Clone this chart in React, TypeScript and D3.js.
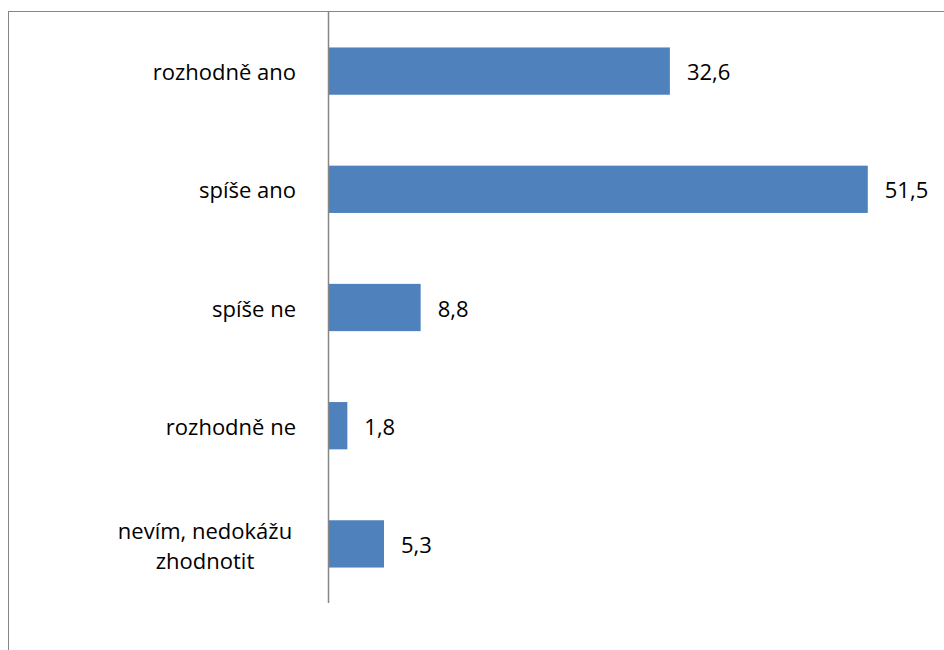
import React from "react";
import * as d3 from "d3";

const categories: string[][] = [
  ["rozhodně ano"],
  ["spíše ano"],
  ["spíše ne"],
  ["rozhodně ne"],
  ["nevím, nedokážu", "zhodnotit"],
];
const values: number[] = [32.6, 51.5, 8.8, 1.8, 5.3];
const valueLabels: string[] = ["32,6", "51,5", "8,8", "1,8", "5,3"];

const W = 944;
const H = 650;
const FONT = "'Open Sans', 'Noto Sans', sans-serif";
const FS = 22;

export default function App() {
  const axisX = 328.5;
  const top = 12;
  const bottom = 603;
  const x = d3.scaleLinear().domain([0, 60]).range([axisX, axisX + 628.3]);
  const y = d3
    .scaleBand<number>()
    .domain(d3.range(categories.length))
    .range([top, bottom])
    .paddingInner(0.6)
    .paddingOuter(0.3);

  return (
    <svg
      width={W}
      height={H}
      style={{ position: "absolute", left: 0, top: 0, display: "block" }}
      fontFamily={FONT}
    >
      <rect x={0} y={0} width={W} height={H} fill="#fff" />
      <rect x={8.5} y={11.5} width={W} height={H} fill="none" stroke="#868686" strokeWidth={1} />
      {values.map((v, i) => (
        <rect
          key={"b" + i}
          x={x(0)}
          y={y(i)!}
          width={x(v) - x(0)}
          height={y.bandwidth()}
          fill="#4F81BD"
        />
      ))}
      <line x1={axisX} x2={axisX} y1={top} y2={bottom} stroke="#868686" strokeWidth={1.5} />
      {categories.map((lines, i) => {
        const cy = y(i)! + y.bandwidth() / 2;
        const lh = 30;
        if (lines.length === 1) {
          return (
            <text
              key={"c" + i}
              x={296}
              y={cy}
              textAnchor="end"
              dominantBaseline="central"
              fontSize={FS}
              fill="#000"
            >
              {lines[0]}
            </text>
          );
        }
        return (
          <text key={"c" + i} x={205} textAnchor="middle" fontSize={FS} fill="#000">
            {lines.map((l, j) => (
              <tspan
                key={j}
                x={205}
                y={cy + 1 + (j - (lines.length - 1) / 2) * lh}
                dominantBaseline="central"
              >
                {l}
              </tspan>
            ))}
          </text>
        );
      })}
      {values.map((v, i) => (
        <text
          key={"v" + i}
          x={x(v) + 17}
          y={y(i)! + y.bandwidth() / 2}
          dominantBaseline="central"
          fontSize={FS}
          fill="#000"
        >
          {valueLabels[i]}
        </text>
      ))}
    </svg>
  );
}
